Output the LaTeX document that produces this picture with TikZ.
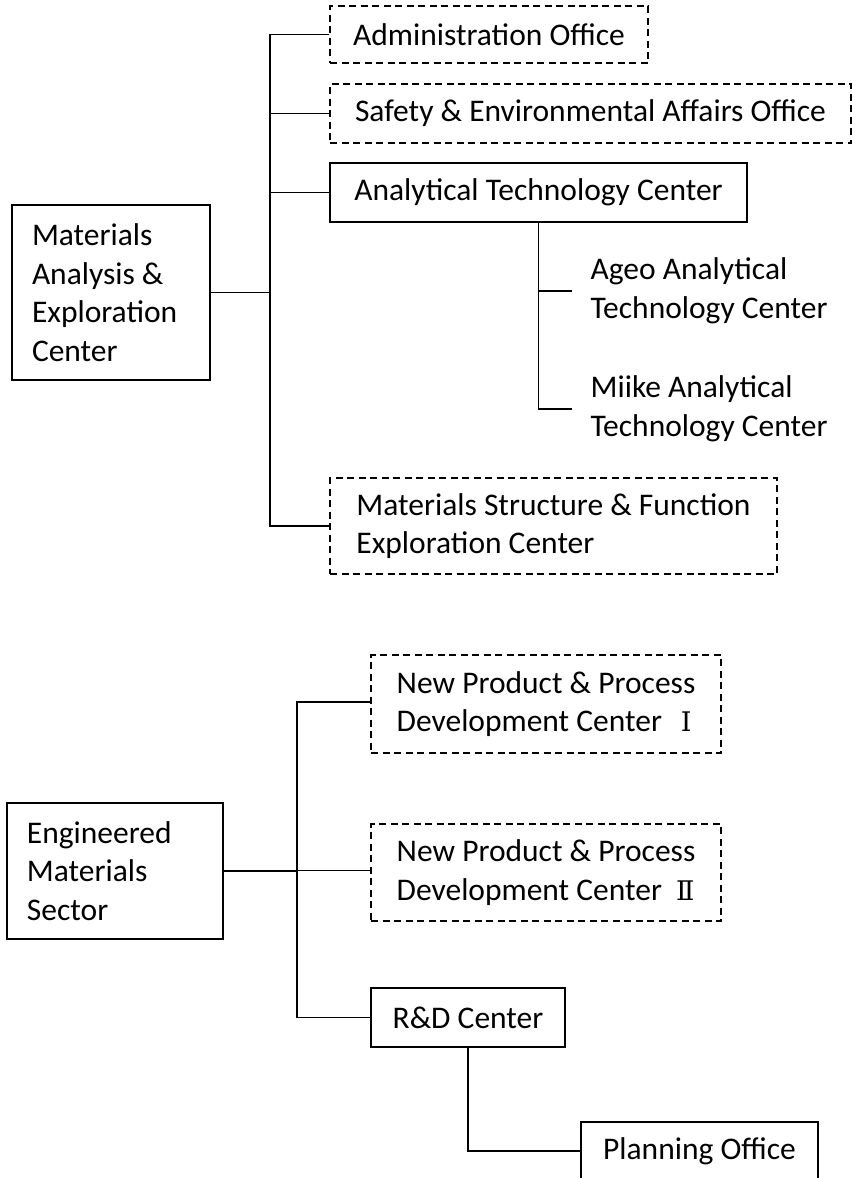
\documentclass[tikz,border=0pt]{standalone}
\usepackage{fontspec}
\setmainfont{Carlito}
\newfontfamily\numfont{DejaVu Serif}
\usepackage{tikz}

\begin{document}
\begin{tikzpicture}[x=1pt,y=-1pt,line width=1.3pt,
    orgtext/.style={align=flush left,font=\fontsize{31.5}{38.5}\selectfont},
    unit/.style={orgtext,draw,rectangle,inner xsep=20pt,inner ysep=0pt},
    office/.style={unit,dash pattern=on 7pt off 4.5pt,line width=1.1pt},
    sub/.style={orgtext,inner xsep=18pt,inner ysep=0pt}]
    \useasboundingbox (0,0) rectangle (852,1178);

    \node[unit,minimum width=198pt,text width=158pt,minimum height=175pt] (mae) at (111,292.5) {Materials\\Analysis \&\\Exploration\\Center};
    \node[office,minimum width=318pt,minimum height=57pt] (admin) at (489,34.5) {Administration Office};
    \node[office,minimum width=521pt,minimum height=59pt] (safety) at (590.5,113.5) {Safety \& Environmental Affairs Office};
    \node[unit,minimum width=417pt,minimum height=59pt] (atc) at (538.5,192.5) {Analytical Technology Center};
    \node[sub,anchor=west] (ageo) at (572,291) {Ageo Analytical\\Technology Center};
    \node[sub,anchor=west] (miike) at (572,409) {Miike Analytical\\Technology Center};
    \node[office,minimum width=447pt,minimum height=96pt] (msf) at (553.5,526) {Materials Structure \& Function\\Exploration Center};

    \node[unit,minimum width=216pt,text width=176pt,minimum height=136pt] (ems) at (115,871) {Engineered\\Materials\\Sector};
    \node[office,minimum width=350pt,minimum height=98pt] (npd1) at (546,704) {New Product \& Process\\Development Center\hspace{0.6em}{\numfont\fontsize{27}{38.5}\selectfont Ⅰ}};
    \node[office,minimum width=350pt,minimum height=97pt] (npd2) at (546,872.5) {New Product \& Process\\Development Center\hspace{0.45em}{\numfont\fontsize{27}{38.5}\selectfont Ⅱ}};
    \node[unit,minimum width=194pt,minimum height=59pt] (rd) at (468,1017.5) {R\&D Center};
    \node[unit,minimum width=237pt,minimum height=58pt] (plan) at (699.5,1151) {Planning Office};

    \coordinate (t1) at (270,0);
    \draw (mae.east) -- (mae.east -| t1);
    \draw (admin.west) -- (admin.west -| t1) -- (msf.west -| t1) -- (msf.west);
    \draw (safety.west) -- (safety.west -| t1);
    \draw (atc.west) -- (atc.west -| t1);
    \draw (atc.south) |- (ageo.west);
    \draw (atc.south) |- (miike.west);

    \coordinate (t2) at (297,0);
    \draw (ems.east) -- (ems.east -| t2);
    \draw ([yshift=2pt]npd1.west) -- ([yshift=2pt]npd1.west -| t2) -- (rd.west -| t2) -- (rd.west);
    \draw ([yshift=2pt]npd2.west) -- ([yshift=2pt]npd2.west -| t2);
    \draw (rd.south) |- (plan.west);
\end{tikzpicture}
\end{document}
